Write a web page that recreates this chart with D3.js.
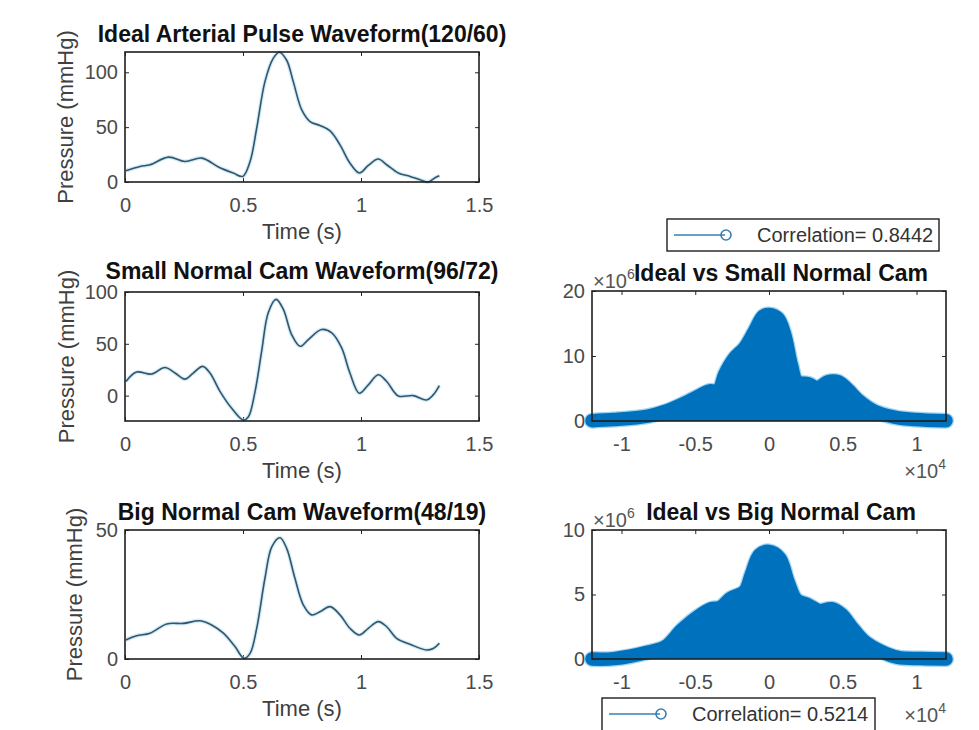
<!DOCTYPE html>
<html>
<head>
<meta charset="utf-8">
<title>Arterial pulse waveforms</title>
<style>
  body { margin: 0; background: #ffffff; }
  svg { display: block; font-family: "Liberation Sans", Arial, Helvetica, sans-serif; }
  .tick text { font-size: 20px; fill: #4a4a4a; }
  .tick line { stroke: #262626; }
  .axis_label { font-size: 22px; fill: #404040; }
  .chart_title { font-size: 23px; font-weight: bold; fill: #111111; }
  .legend_text { font-size: 20px; fill: #333333; }
</style>
</head>
<body>
<svg width="979" height="730"></svg>
<script src="https://d3js.org/d3.v7.min.js"></script>
<script>
// ---- data ----
const timeIdeal  = [0.004, 0.064, 0.106, 0.184, 0.254, 0.325, 0.40, 0.459, 0.499, 0.53, 0.558, 0.593, 0.628, 0.654, 0.685, 0.713, 0.749, 0.784, 0.826, 0.869, 0.911, 0.953, 0.993, 1.031, 1.073, 1.109, 1.158, 1.208, 1.25, 1.285, 1.314, 1.332];
const pressIdeal = [10.3, 14.2, 15.7, 22.7, 18.7, 21.8, 13.3, 8.2, 5.1, 18.7, 49, 91.5, 112.7, 118.3, 111, 91.5, 65.7, 55.1, 51.5, 46.6, 33.9, 17.3, 8.2, 15.1, 20.9, 15.7, 8.2, 5.1, 2.1, 0, 3.9, 5.7];

const timeSmall  = [0.004, 0.049, 0.113, 0.169, 0.212, 0.254, 0.289, 0.329, 0.36, 0.403, 0.452, 0.501, 0.523, 0.551, 0.579, 0.607, 0.64, 0.671, 0.706, 0.742, 0.777, 0.833, 0.876, 0.918, 0.953, 0.993, 1.031, 1.073, 1.109, 1.158, 1.222, 1.278, 1.306, 1.332];
const pressSmall = [13.6, 22.7, 20.8, 27.2, 21.8, 15.9, 21.8, 28.2, 21.8, 3.9, -12.2, -23.6, -20.4, 3.9, 42.7, 80, 92.9, 83.2, 58.9, 47.6, 54.1, 63.8, 60.5, 46, 21.8, 2.3, 10.4, 20.1, 13.6, -0.3, 0, -4.2, 0.7, 9.7];

const timeBig  = [0.004, 0.049, 0.106, 0.177, 0.247, 0.318, 0.367, 0.417, 0.466, 0.504, 0.53, 0.558, 0.593, 0.622, 0.657, 0.685, 0.72, 0.756, 0.791, 0.826, 0.869, 0.911, 0.953, 0.993, 1.031, 1.073, 1.109, 1.151, 1.208, 1.278, 1.306, 1.332];
const pressBig = [7.4, 9.0, 10.0, 13.6, 13.8, 14.8, 13.2, 10.0, 4.8, 0.3, 2.2, 11.9, 31.3, 43.5, 47, 42.9, 31.3, 20.9, 17.1, 18.3, 20.3, 17.1, 11.9, 9.3, 11.9, 14.5, 12.5, 8.0, 5.7, 3.5, 4.1, 6.1];

// cross-correlation envelopes, lag in 1e4 samples, value in 1e6
const lagSmall  = [-1.2, -1.05, -0.82, -0.7, -0.59, -0.48, -0.4, -0.345, -0.3, -0.233, -0.165, -0.097, -0.04, 0.0, 0.06, 0.106, 0.151, 0.19, 0.264, 0.33, 0.4, 0.467, 0.534, 0.6, 0.715, 0.85, 0.985, 1.2];
const corrSmall = [0.05, 0.22, 0.75, 1.5, 2.55, 3.8, 4.65, 4.55, 7.15, 9.7, 11.25, 13.85, 16.1, 16.4, 15.8, 13.3, 8.65, 6.05, 5.75, 5.1, 6.05, 6.05, 4.85, 3.3, 1.5, 0.6, 0.22, 0.05];

const lagBig  = [-1.2, -1.05, -0.82, -0.7, -0.59, -0.48, -0.39, -0.33, -0.26, -0.165, -0.12, -0.064, 0, 0.072, 0.128, 0.185, 0.264, 0.343, 0.422, 0.49, 0.557, 0.647, 0.76, 0.873, 1.03, 1.2];
const corrBig = [0.0, 0.03, 0.53, 0.97, 2.27, 3.3, 3.9, 4.0, 4.7, 5.24, 6.53, 8.07, 8.34, 7.82, 6.01, 4.59, 4.2, 3.74, 3.9, 3.47, 2.52, 1.36, 0.59, 0.12, 0.03, 0.0];

const timeTicks = [0, 0.5, 1, 1.5];
const lagTicks = [-1, -0.5, 0, 0.5, 1];
const idealTicks = [0, 50, 100];
const smallTicks = [0, 50, 100];
const bigTicks = [0, 50];
const corrSmallTicks = [0, 10, 20];
const corrBigTicks = [0, 5, 10];

const correlations = [0.8442, 0.5214];

// ---- drawing ----
const svg = d3.select('svg');
const lineColor = '#37556a';
const blue = '#0072bd';

function panel(p) {
  const g = svg.append('g').attr('transform', `translate(${p.left}, ${p.top})`);
  const w = p.width, h = p.height;
  const x = d3.scaleLinear().domain(p.xDomain).range([0, w]);
  const y = d3.scaleLinear().domain(p.yDomain).range([h, 0]);

  // axes with inward ticks on all four sides
  const fmt = d => String(d);
  g.append('g').attr('transform', `translate(0, ${h})`)
    .call(d3.axisBottom(x).tickValues(p.xTicks).tickSize(-4).tickPadding(16).tickFormat(fmt));
  g.append('g')
    .call(d3.axisTop(x).tickValues(p.xTicks).tickSize(-4).tickFormat(''));
  g.append('g')
    .call(d3.axisLeft(y).tickValues(p.yTicks).tickSize(-4).tickPadding(7).tickFormat(fmt));
  g.append('g').attr('transform', `translate(${w}, 0)`)
    .call(d3.axisRight(y).tickValues(p.yTicks).tickSize(-4).tickFormat(''));
  g.selectAll('.domain').remove();
  g.selectAll('.tick text').attr('font-family', null).attr('font-size', null);

  p.draw(g, x, y);

  // box on top of the data
  g.append('rect')
    .attr('x', 0).attr('y', 0).attr('width', w).attr('height', h)
    .attr('fill', 'none').attr('stroke', '#1e1e1e').attr('stroke-width', 1.6);

  g.append('text')
    .attr('class', 'chart_title')
    .attr('x', w / 2 + (p.titleShift || 0))
    .attr('y', p.titleY || -10)
    .attr('text-anchor', 'middle')
    .text(p.title);
  return g;
}

function waveform(times, values) {
  const pts = times.map((t, i) => [t, values[i]]);
  return (g, x, y) => {
    const line = d3.line().x(d => x(d[0])).y(d => y(d[1])).curve(d3.curveCatmullRom.alpha(0.5));
    g.append('path').datum(pts).attr('d', line)
      .attr('fill', 'none').attr('stroke', '#a8dcf0').attr('stroke-width', 4).attr('opacity', 0.55);
    g.append('path').datum(pts).attr('d', line)
      .attr('fill', 'none').attr('stroke', lineColor).attr('stroke-width', 1.6);
  };
}

function xcorr(lags, values) {
  const pts = lags.map((l, i) => [l, values[i]]);
  return (g, x, y) => {
    const area = d3.area().x(d => x(d[0])).y0(y(0)).y1(d => y(d[1])).curve(d3.curveCatmullRom.alpha(0.5));
    const line = d3.line().x(d => x(d[0])).y(d => y(d[1])).curve(d3.curveCatmullRom.alpha(0.5));
    g.append('path').datum(pts).attr('d', line)
      .attr('fill', 'none').attr('stroke', '#5fb8ea').attr('stroke-width', 16)
      .attr('stroke-linejoin', 'round').attr('stroke-linecap', 'round').attr('opacity', 0.6);
    g.append('path').datum(pts).attr('d', area).attr('fill', blue);
    g.append('path').datum(pts).attr('d', line)
      .attr('fill', 'none').attr('stroke', blue).attr('stroke-width', 13.5)
      .attr('stroke-linejoin', 'round').attr('stroke-linecap', 'round');
  };
}

function yLabel(g, dx, h) {
  g.append('text')
    .attr('class', 'axis_label')
    .attr('transform', `translate(${dx}, ${h / 2}) rotate(-90)`)
    .attr('text-anchor', 'middle')
    .attr('dominant-baseline', 'middle')
    .text('Pressure (mmHg)');
}

function xLabel(g, w, h) {
  g.append('text')
    .attr('class', 'axis_label')
    .attr('x', w / 2)
    .attr('y', h + 51)
    .attr('text-anchor', 'middle')
    .attr('dominant-baseline', 'middle')
    .text('Time (s)');
}

function exponent(g, xPos, yPos, power, anchor) {
  const t = g.append('text')
    .attr('x', xPos).attr('y', yPos)
    .attr('text-anchor', anchor)
    .style('font-size', '20px').style('fill', '#555555');
  t.append('tspan').text('\u00d710');
  t.append('tspan').attr('dy', -9).style('font-size', '14px').text(power);
}

function legend(x0, y0, w, h, value) {
  const g = svg.append('g').attr('transform', `translate(${x0}, ${y0})`);
  g.append('rect').attr('width', w).attr('height', h)
    .attr('fill', '#ffffff').attr('stroke', '#1e1e1e').attr('stroke-width', 1.4);
  g.append('line').attr('x1', 7).attr('x2', 58).attr('y1', 16).attr('y2', 16)
    .attr('stroke', '#3a7fb0').attr('stroke-width', 1.6);
  g.append('circle').attr('cx', 59).attr('cy', 16).attr('r', 5)
    .attr('fill', 'none').attr('stroke', '#3a7fb0').attr('stroke-width', 1.6);
  g.append('text').attr('class', 'legend_text')
    .attr('x', 90).attr('y', 23)
    .text('Correlation= ' + value.toFixed(4));
}

const L = { left: 125, width: 354 };
const R = { left: 592, width: 354 };

const p1 = panel({ ...L, top: 52, height: 130, xDomain: [0, 1.5], yDomain: [0, 118.5],
  xTicks: timeTicks, yTicks: idealTicks, title: 'Ideal Arterial Pulse Waveform(120/60)',
  draw: waveform(timeIdeal, pressIdeal) });
yLabel(p1, -58, 130); xLabel(p1, 354, 130);

const p2 = panel({ ...L, top: 292, height: 129, xDomain: [0, 1.5], yDomain: [-24.5, 100],
  xTicks: timeTicks, yTicks: smallTicks, title: 'Small Normal Cam Waveform(96/72)', titleY: -13,
  draw: waveform(timeSmall, pressSmall) });
yLabel(p2, -57, 129); xLabel(p2, 354, 129);

const p3 = panel({ ...L, top: 530, height: 129, xDomain: [0, 1.5], yDomain: [0, 50],
  xTicks: timeTicks, yTicks: bigTicks, title: 'Big Normal Cam Waveform(48/19)',
  draw: waveform(timeBig, pressBig) });
yLabel(p3, -49, 129); xLabel(p3, 354, 129);

const p4 = panel({ ...R, top: 291, height: 130, xDomain: [-1.2, 1.2], yDomain: [0, 20],
  xTicks: lagTicks, yTicks: corrSmallTicks, title: 'Ideal vs Small Normal Cam', titleShift: 12,
  draw: xcorr(lagSmall, corrSmall) });
exponent(p4, 354, 187, '4', 'end');

const p5 = panel({ ...R, top: 530, height: 129, xDomain: [-1.2, 1.2], yDomain: [0, 10],
  xTicks: lagTicks, yTicks: corrBigTicks, title: 'Ideal vs Big Normal Cam', titleShift: 12,
  draw: xcorr(lagBig, corrBig) });
exponent(p5, 354, 192, '4', 'end');

// y exponents sit under the titles
exponent(p4, 1, -3, '6', 'start');
exponent(p5, 1, -3, '6', 'start');
p4.select('.chart_title').raise();
p5.select('.chart_title').raise();

legend(667, 219, 272, 32, correlations[0]);
legend(602, 698, 273, 36, correlations[1]);
</script>
</body>
</html>
